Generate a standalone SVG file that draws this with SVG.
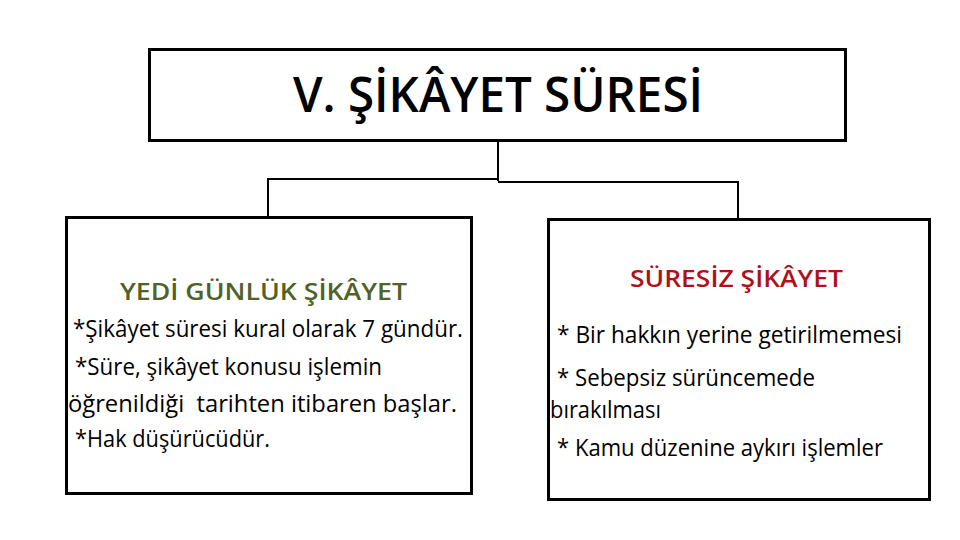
<svg xmlns="http://www.w3.org/2000/svg" width="960" height="540" viewBox="0 0 960 540">
<style>
.box{fill:#fff;stroke:#000;stroke-width:3}
.conn{fill:none;stroke:#000;stroke-width:2}
.t{font-family:"Open Sans","Liberation Sans",sans-serif;fill:#000}
.title{font-size:48px;font-weight:600}
.head{font-size:24px;font-weight:600}
.body{font-size:23px}
</style>
<rect width="960" height="540" fill="#fff"/>
<g id="connectors">
<polyline class="conn" points="498,141 498,181"/>
<polyline class="conn" points="268,217 268,179 498,179"/>
<polyline class="conn" points="498,182 738,182 738,219"/>
</g>
<g id="title">
<rect class="box" x="149.5" y="49.5" width="696" height="91"/>
<text class="t title" x="293" y="112" textLength="410" lengthAdjust="spacingAndGlyphs">V. ŞİKÂYET SÜRESİ</text>
</g>
<g id="yedi-gunluk">
<rect class="box" x="66.5" y="217.5" width="405" height="276"/>
<text class="t head" x="120" y="300" style="fill:#4F6228" textLength="287" lengthAdjust="spacingAndGlyphs">YEDİ GÜNLÜK ŞİKÂYET</text>
<text class="t body" x="73" y="337" textLength="390" lengthAdjust="spacingAndGlyphs">*Şikâyet süresi kural olarak 7 gündür.</text>
<text class="t body" x="75" y="375" textLength="307" lengthAdjust="spacingAndGlyphs">*Süre, şikâyet konusu işlemin</text>
<text class="t body" x="68" y="412" xml:space="preserve" textLength="389" lengthAdjust="spacingAndGlyphs">öğrenildiği  tarihten itibaren başlar.</text>
<text class="t body" x="75" y="447" textLength="195" lengthAdjust="spacingAndGlyphs">*Hak düşürücüdür.</text>
</g>
<g id="suresiz">
<rect class="box" x="548.5" y="219.5" width="381" height="280"/>
<text class="t head" x="630" y="287" style="fill:#B0101A" textLength="213" lengthAdjust="spacingAndGlyphs">SÜRESİZ ŞİKÂYET</text>
<text class="t body" x="557" y="343" textLength="345" lengthAdjust="spacingAndGlyphs">* Bir hakkın yerine getirilmemesi</text>
<text class="t body" x="557" y="386" textLength="258" lengthAdjust="spacingAndGlyphs">* Sebepsiz sürüncemede</text>
<text class="t body" x="550" y="418" textLength="111" lengthAdjust="spacingAndGlyphs">bırakılması</text>
<text class="t body" x="557" y="456" textLength="326" lengthAdjust="spacingAndGlyphs">* Kamu düzenine aykırı işlemler</text>
</g>
</svg>
